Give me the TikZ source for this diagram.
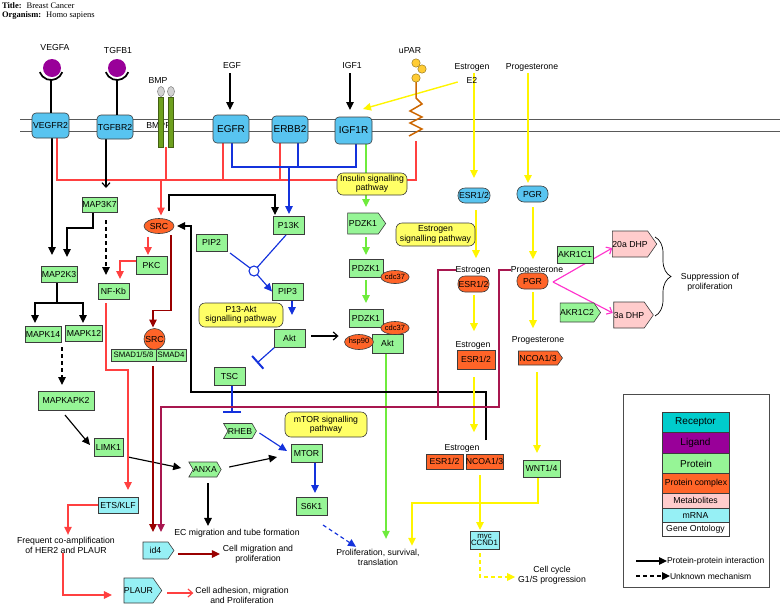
\documentclass[tikz,border=0pt]{standalone}
\usepackage{fontspec}
\setmainfont{Liberation Sans}
\newfontfamily\titlefont{Liberation Serif}
\usetikzlibrary{arrows.meta,shapes.geometric,shapes.symbols,decorations.pathreplacing,calc}
\pgfdeclarelayer{bg}
\pgfsetlayers{bg,main}
\definecolor{recblue}{RGB}{88,196,240}
\definecolor{lgrec}{RGB}{0,204,204}
\definecolor{ligpurple}{RGB}{153,0,153}
\definecolor{protgreen}{RGB}{150,245,150}
\definecolor{cplxorange}{RGB}{255,100,40}
\definecolor{metapink}{RGB}{255,204,204}
\definecolor{mrnacyan}{RGB}{150,240,245}
\definecolor{pathyellow}{RGB}{255,255,102}
\definecolor{lyellow}{RGB}{255,245,0}
\definecolor{lred}{RGB}{255,64,64}
\definecolor{ldred}{RGB}{153,0,0}
\definecolor{lcrim}{RGB}{168,23,79}
\definecolor{lblue}{RGB}{20,50,220}
\definecolor{lgreen}{RGB}{110,235,60}
\definecolor{lmag}{RGB}{255,51,204}
\definecolor{edgegray}{RGB}{60,60,60}
\definecolor{rodgreen}{RGB}{110,160,30}
\definecolor{uparorange}{RGB}{204,102,0}
\definecolor{uparyellow}{RGB}{255,204,51}
\tikzset{
  every node/.style={font=\fontsize{8.7}{10}\selectfont, inner sep=0pt, outer sep=0pt},
  sz/.style 2 args={minimum width=#1, minimum height=#2},
  rec/.style={draw=edgegray, line width=0.6pt, fill=recblue, rounded corners=4pt},
  bigtxt/.style={font=\fontsize{10}{11}\selectfont},
  prot/.style={draw=edgegray, line width=0.6pt, fill=protgreen},
  cplx/.style={draw=edgegray, line width=0.6pt, fill=cplxorange},
  mrna/.style={draw=edgegray, line width=0.6pt, fill=mrnacyan},
  metab/.style={draw=edgegray, line width=0.6pt, fill=metapink},
  oval/.style={ellipse, draw=edgegray, line width=0.6pt, fill=cplxorange},
  pathbox/.style={draw=edgegray, line width=0.6pt, fill=pathyellow, rounded corners=6pt, align=center, font=\fontsize{8.7}{9.3}\selectfont},
  pent/.style={shape=signal, signal to=east, signal pointer angle=110},
  hexa/.style={shape=signal, signal to=east, signal from=west, signal pointer angle=120},
  lgd/.style={draw=edgegray, line width=0.6pt, minimum width=67},
  ln/.style={line width=1.15pt},
  arr/.style={-{Triangle[length=8pt,width=7.5pt]}},
  openarr/.style={-{Straight Barb[length=4.5pt,width=8pt]}},
  lnred/.style={ln, lred},
  lnblue/.style={ln, lblue},
  lngreen/.style={ln, lgreen},
  lnyel/.style={line width=1.4pt, lyellow},
  lndred/.style={ln, ldred},
  lncrim/.style={ln, lcrim},
  lnmag/.style={ln, lmag},
  dsh/.style={dash pattern=on 4pt off 3pt},
}
\begin{document}
\begin{tikzpicture}[x=1pt,y=-1pt]
\useasboundingbox (0,0) rectangle (784,606);

% ---------- title ----------
\node[anchor=west, font=\titlefont\fontsize{8.5}{9}\selectfont] (title) at (2,5.5) {\textbf{Title:}\hspace{5pt}Breast Cancer};
\node[anchor=west, font=\titlefont\fontsize{8.5}{9}\selectfont] (organism) at (2,15.5) {\textbf{Organism:}\hspace{5pt}Homo sapiens};

% ---------- labels above membrane ----------
\node (vegfa) at (55,48) {VEGFA};
\node (tgfb1) at (118,50) {TGFB1};
\node (bmp) at (158,81) {BMP};
\node (bmpr) at (159,126) {BMPR};
\node (egf) at (232,66) {EGF};
\node (igf1) at (352,66) {IGF1};
\node (upar) at (410,51) {uPAR};
\node (estrogen) at (472,67) {Estrogen};
\node (e2) at (472,80) {E2};
\node (prog) at (532,67) {Progesterone};

% ---------- receptors ----------
\node[rec, sz={37}{25}] (vegfr2) at (50.5,125.5) {VEGFR2};
\node[rec, sz={36}{24}] (tgfbr2) at (115,127) {TGFBR2};
\node[rec, bigtxt, sz={36}{28}] (egfr) at (231,129) {EGFR};
\node[rec, bigtxt, sz={36}{27}] (erbb2) at (290,129.5) {ERBB2};
\node[rec, bigtxt, sz={37}{27}] (igf1r) at (353.5,130.5) {IGF1R};

% ligands
\node[circle, fill=ligpurple, minimum size=18] (vegfacirc) at (52,68) {};
\node[circle, fill=ligpurple, minimum size=18] (tgfb1circ) at (117,68) {};
\draw[line width=1.7pt] (62.3,72.1) arc[start angle=20, end angle=160, radius=12];
\draw[line width=1.7pt] (128.3,72.1) arc[start angle=20, end angle=160, radius=12];
\draw[line width=1.7pt] (51,80) -- ($(vegfr2.north)+(0.5,0)$);
\draw[line width=1.7pt] (117,80) -- ($(tgfbr2.north)+(2,0)$);

% BMP rods
\foreach \x in {161,171} {
  \draw[fill=rodgreen, draw=rodgreen!60!black, line width=0.5pt] (\x-2.5,97) rectangle (\x+2.5,147);
  \draw[fill=gray!35, draw=gray, line width=0.5pt] (\x,91.5) ellipse [x radius=3.5, y radius=5];
}
\coordinate (bmpbase) at (166,147);

% uPAR
\draw[uparorange, line width=1.5pt] (416,82) -- (416,98) -- (422,104) -- (410,111) -- (422,117) -- (410,123) -- (422,129) -- (409,136);
\foreach \p in {(416,63),(422,69),(416,78)} \draw[fill=uparyellow, draw=uparyellow!60!black, line width=0.5pt] \p circle[radius=4.2];
\coordinate (uparbase) at (416,141);

% ---------- cytoplasm nodes ----------
\node[prot, sz={35}{15}] (map3k7) at (99.5,204.5) {MAP3K7};
\node[oval, sz={30}{15}] (src1) at (159,226) {SRC};
\node[prot, sz={31}{18}] (pkc) at (151.5,265) {PKC};
\node[prot, sz={31}{16}] (nfkb) at (113.5,291) {NF-Kb};
\node[prot, sz={36}{16}] (map2k3) at (59,274) {MAP2K3};
\node[prot, sz={36}{16}] (mapk14) at (43,334) {MAPK14};
\node[prot, sz={37}{16}] (mapk12) at (84,333) {MAPK12};
\node[prot, sz={56}{19}] (mapkapk2) at (66,400.5) {MAPKAPK2};
\node[prot, sz={29}{18}] (limk1) at (108.5,447) {LIMK1};
\node[prot, sz={45}{12}, font=\fontsize{7.8}{9}\selectfont] (smad158) at (133.5,355) {SMAD1/5/8};
\node[prot, sz={30}{12}, font=\fontsize{7.8}{9}\selectfont] (smad4) at (171,355) {SMAD4};
\node[circle, draw=edgegray, line width=0.6pt, fill=cplxorange, minimum size=21] (src2) at (154.5,339) {SRC};

\node[prot, sz={31}{17}] (pip2) at (211.5,242.5) {PIP2};
\node[prot, sz={31}{18}] (p13k) at (288.5,225) {P13K};
\node[prot, sz={31}{17}] (pip3) at (287.5,291.5) {PIP3};
\node[prot, sz={31}{18}] (akt1) at (289.5,338) {Akt};
\node[prot, sz={31}{18}] (tsc) at (229.5,376) {TSC};
\node[prot, hexa, sz={29}{15}] (rheb) at (240,431) {RHEB};
\node[prot, hexa, sz={30}{15}] (anxa) at (205,469.5) {ANXA};
\node[prot, sz={31}{18}] (mtor) at (306.5,453) {MTOR};
\node[prot, sz={31}{18}] (s6k1) at (311.5,506) {S6K1};
\node[circle, draw=lblue, line width=1.1pt, fill=white, minimum size=10] (cat) at (254,271) {};

\node[prot, pent, sz={38}{21}] (pdzk1a) at (363,223.5) {PDZK1};
\node[prot, sz={34}{18}] (pdzk1b) at (366,268) {PDZK1};
\node[oval, sz={25}{13}, font=\fontsize{7.5}{8}\selectfont] (cdc37a) at (395,277) {cdc37};
\node[prot, sz={34}{18}] (pdzk1c) at (366,318) {PDZK1};
\node[prot, sz={31}{19}] (akt2) at (387.5,343.5) {Akt};
\node[oval, sz={25}{13}, font=\fontsize{7.5}{8}\selectfont] (cdc37b) at (395,328) {cdc37};
\node[oval, sz={25}{15}, font=\fontsize{7.5}{8}\selectfont] (hsp90) at (359,342) {hsp90};

% pathway boxes
\node[pathbox, sz={70}{22}] (insulin) at (372,184) {Insulin signalling\\pathway};
\node[pathbox, sz={84}{24}] (p13akt) at (241,315) {P13-Akt\\signalling pathway};
\node[pathbox, sz={79}{23}] (estsig) at (435.5,234.5) {Estrogen\\signalling pathway};
\node[pathbox, sz={82}{25}] (mtorsig) at (326,424.5) {mTOR signalling\\pathway};

% estrogen branch
\node[rec, rounded corners=7pt, sz={32}{15}] (esr1b) at (474,195.5) {ESR1/2};
\node (est1) at (473,270) {Estrogen};
\node[cplx, rounded corners=7pt, sz={31}{16}] (esrpill) at (473.5,284) {ESR1/2};
\node (est2) at (473,345) {Estrogen};
\node[cplx, sz={38}{19}] (esrrect) at (476,359.5) {ESR1/2};
\node (est3) at (462,448) {Estrogen};
\node[cplx, sz={37}{15}] (esr3) at (444.5,461.5) {ESR1/2};
\node[cplx, sz={35}{15}] (ncoa3) at (484.5,461.5) {NCOA1/3};
\node[mrna, sz={29}{18}, align=center, font=\fontsize{7.8}{7.6}\selectfont] (myc) at (484.5,540) {myc\\CCND1};

% progesterone branch
\node[rec, rounded corners=7pt, sz={31}{16}] (pgrb) at (532.5,194) {PGR};
\node (prog1) at (537,270) {Progesterone};
\node[cplx, rounded corners=7pt, sz={31}{16}] (pgro) at (532.5,281) {PGR};
\node (prog2) at (538,340) {Progesterone};
\node[cplx, pent, sz={44}{14}] (ncoa) at (538,358) {NCOA1/3};
\node[prot, sz={37}{17}] (wnt) at (541.5,468.5) {WNT1/4};
\node[prot, sz={36}{17}] (akr1c1) at (575,254.5) {AKR1C1};
\node[prot, pent, sz={40}{19}] (akr1c2) at (577,312.5) {AKR1C2};
\node[metab, pent, sz={40}{26}] (dhp20) at (630,244) {20a DHP};
\node[metab, pent, sz={38}{26}] (dhp3) at (629,315) {3a DHP};
\node[align=center] (supp) at (710,282.5) {Suppression of\\proliferation};

% mRNA nodes
\node[mrna, sz={40}{16}] (etsklf) at (118,505) {ETS/KLF};
\node[mrna, pent, sz={31}{17}] (id4) at (155.5,550.5) {id4};
\node[mrna, pent, sz={33}{25}] (plaur) at (138.5,590.5) {PLAUR};

% outcome texts
\node (ec) at (237,533) {EC migration and tube formation};
\node[align=center] (cellmig) at (258,554) {Cell migration and\\proliferation};
\node[align=center] (freq) at (66,545) {Frequent co-amplification\\of HER2 and PLAUR};
\node[align=center] (celladh) at (242,595) {Cell adhesion, migration\\and Proliferation};
\node[align=center] (prolif) at (378,557) {Proliferation, survival,\\translation};
\node[align=center] (cellcyc) at (552,575) {Cell cycle\\G1/S progression};

% ---------- connectors ----------
\begin{pgfonlayer}{bg}
\draw[gray!70!black, line width=0.8pt] (20,119) -- (780,119) (20,131) -- (780,131);

% ligand arrows
\draw[ln, arr] ($(egf.south)+(-2,4)$) -- ($(egfr.north)+(-1,-5)$);
\draw[ln, arr] ($(igf1.south)+(-2,4)$) -- ($(igf1r.north)+(-3.5,-7)$);
\draw[lnyel, arr] ($(e2.west)+(-9,2)$) -- ($(igf1r.north east)+(-9,-8)$);
\draw[lnyel, arr] ($(estrogen.south)+(2,2)$) -- ($(esr1b.north)+(0,-10)$);
\draw[lnyel, arr] ($(prog.south)+(-4,2)$) -- ($(pgrb.north)+(-4.5,-3)$);

% red network
\coordinate (rj) at (416,180);
\draw[lnred] ($(vegfr2.south)+(6.5,0)$) |- (rj) -- (uparbase);
\draw[lnred] (bmpbase) -- ($(bmpbase)+(0,33)$);
\draw[lnred] ($(egfr.south)+(-8,0)$) -- ($(egfr.south)+(-8,37)$);
\draw[lnred] ($(erbb2.south)+(-10,0)$) -- ($(erbb2.south)+(-10,37)$);
\draw[lnred, arr] ($(src1.north)+(2,-38.5)$) -- ($(src1.north)+(2,-3)$);

% blue network
\draw[lnblue] ($(egfr.south)+(1,0)$) |- ($(igf1r.south)+(2.5,23)$) -- ($(igf1r.south)+(2.5,0)$);
\draw[lnblue] ($(erbb2.south)+(8,0)$) -- ($(erbb2.south)+(8,24)$);
\draw[lnblue, arr] ($(p13k.north)+(0.5,-49)$) -- ($(p13k.north)+(0.5,-2)$);

% green IGF1R
\draw[lngreen, arr] ($(igf1r.south)+(12.5,0)$) -- ($(pdzk1a.north)+(3,-6)$);
\draw[lngreen, arr] ($(pdzk1a.south)+(3,3)$) -- ($(pdzk1b.north)+(0,-4)$);
\draw[lngreen, arr] ($(pdzk1b.south)+(0,3)$) -- ($(pdzk1c.north)+(0,-6)$);
\draw[lngreen, arr] ($(akt2.south)+(-1.5,0)$) -- ($(prolif.north)+(8,-10)$);

% left black cascade
\draw[ln, arr] ($(vegfr2.south)+(1.5,0)$) -- ($(map2k3.north)+(-7,-11)$);
\draw[ln, openarr] ($(tgfbr2.south)+(-9,0)$) -- ($(map3k7.north)+(6.5,-9)$);
\draw[ln, arr] ($(map3k7.south)+(-6.5,0)$) -- ++(0,16) -| ($(map2k3.north)+(8,-9)$);
\draw[ln, arr, dsh] ($(map3k7.south)+(6.5,8)$) -- ($(nfkb.north)+(-7.5,-8)$);
\coordinate (mj) at ($(map2k3.south)+(-2,21)$);
\draw[ln] ($(map2k3.south)+(-2,0)$) -- (mj);
\draw[ln, arr] (mj) -| ($(mapk14.north)+(-8,-3)$);
\draw[ln, arr] (mj) -| ($(mapk12.north)+(-1,-2)$);
\draw[ln, arr, dsh] ($(mapk14.south)+(19,5)$) -- ($(mapkapk2.north)+(-4,-6)$);
\draw[ln, arr] ($(mapkapk2.south)+(-1,5)$) -- ($(limk1.west)+(-4,-2)$);
\draw[ln, arr] ($(limk1.south east)+(5,1)$) -- ($(anxa.west)+(-12,-1.5)$);
\draw[ln, arr] ($(anxa.east)+(8,-2.5)$) -- ($(mtor.west)+(-14,4)$);
\draw[ln, arr] ($(anxa.south)+(3,6)$) -- ($(ec.north)+(-29,-3)$);

% SRC related
\draw[ln, arr] ($(src1.north)+(10,-7.5)$) |- ($(p13k.north)+(-13.5,-21)$) -- ($(p13k.north)+(-13.5,-1)$);
\draw[ln, arr] ($(ncoa3.north)+(1.5,-14)$) |- ($(src1.east)+(17,166)$) -- ($(src1.east)+(17,0)$) -- ($(src1.east)+(3,0)$);
\draw[lnred, arr] ($(src1.south)+(-11,3)$) -- ($(pkc.north)+(-3.5,-1)$);
\draw[lnred, arr] ($(pkc.west)+(0,-4)$) -| ($(nfkb.north)+(6.5,-4)$);
\draw[lndred, arr] ($(src1.south)+(12,1.5)$) |- ($(src2.north)+(-1.5,-18)$) -- ($(src2.north)+(-1.5,-1)$);
\draw[lndred, arr] ($(smad158.south)+(19.5,5)$) -- ($(id4.north)+(-2.5,-10)$);
\draw[lndred, arr] ($(id4.east)+(4,3.5)$) -- ($(cellmig.west)+(-3,0)$);

% PI3K / Akt / mTOR
\draw[lnblue] ($(p13k.south)+(-2.5,1)$) -- (cat);
\draw[lnblue] ($(pip2.south east)+(3,2)$) -- (cat);
\draw[lnblue, arr] (cat) -- (pip3.west);
\draw[lnblue, arr] ($(pip3.south)+(4.5,1)$) -- ($(akt1.north)+(2.5,-14)$);
\draw[lnblue, -{Bar[width=17pt, line width=2pt]}] ($(akt1.south west)+(1,0)$) -- ($(tsc.north east)+(12,-4)$);
\draw[lnblue, -{Bar[width=18pt, line width=2pt]}] ($(tsc.south)+(2.5,1)$) -- ($(tsc.south)+(2.5,28)$);
\draw[lnblue, arr] ($(rheb.east)+(3,2)$) -- ($(mtor.west)+(-4,-2)$);
\draw[lnblue, arr] ($(mtor.south)+(8.5,1)$) -- ($(s6k1.north)+(3.5,-4)$);
\draw[lnblue, arr, dsh] ($(s6k1.south east)+(-4,10)$) -- ($(prolif.north)+(-22,-2)$);
\draw[ln, openarr] ($(akt1.east)+(6,-2)$) -- ($(hsp90.west)+(-6,-6)$);

% estrogen / progesterone (yellow)
\draw[lnyel, arr] ($(esr1b.south)+(2,7)$) -- ($(est1.north)+(3,-8)$);
\draw[lnyel, arr] ($(esrpill.south)+(0.5,3)$) -- ($(est2.north)+(1,-10)$);
\draw[lnyel, arr] ($(esrrect.south)+(-2,8)$) -- ($(est3.north)+(12,-12)$);
\draw[lnyel, arr] ($(ncoa3.south)+(-4.5,6)$) -- ($(myc.north)+(-4.5,-1)$);
\draw[lnyel, arr] ($(wnt.south)+(-3.5,0)$) -- ++(0,26) -| ($(prolif.north)+(34,-3)$);
\draw[lnyel, arr, dsh] ($(myc.south)+(-4.5,4)$) |- ($(cellcyc.west)+(-3,2)$);
\draw[lnyel, arr] ($(pgrb.south)+(0.5,5)$) -- ($(prog1.north)+(-4,-7)$);
\draw[lnyel, arr] ($(pgro.south)+(0.5,3)$) -- ($(prog2.north)+(-5,-8)$);
\draw[lnyel, arr] ($(ncoa.south)+(-1,7)$) -- ($(wnt.north)+(-4.5,-7)$);

% magenta
\draw[lnmag, openarr] ($(pgro.east)+(5,1)$) -- ($(dhp20.west)+(0,4)$);
\draw[lnmag, openarr] ($(pgro.east)+(5,1)$) -- ($(dhp3.west)+(-1,-2)$);

% crimson
\coordinate (crj) at (161,407);
\draw[lncrim] (est1.west) -| (438,407);
\draw[lncrim, arr] (prog1.west) -| (499,407) -- (crj) -- ($(id4.north)+(5.5,-10)$);

% red lower
\draw[lnred, arr] ($(nfkb.south)+(-7.5,4)$) -- ++(0,67) -| ($(etsklf.north)+(10,-7)$);
\draw[lnred, arr] (etsklf.west) -| ($(freq.north)+(2,-2)$);
\draw[lnred, arr] ($(freq.south)+(-3,0)$) |- ($(plaur.west)+(-12,4.5)$);
\draw[lnred, openarr] ($(plaur.east)+(5,2.5)$) -- ($(celladh.west)+(-2,-2)$);
\end{pgfonlayer}

% brace
\draw[line width=0.7pt, decorate, decoration={brace, amplitude=16pt}] (655,237) -- (655,316);

% ---------- legend ----------
\draw[draw=gray!60!black, line width=0.9pt] (623,394) rectangle (769,587);
\node[lgd, fill=lgrec, minimum height=20, font=\fontsize{10}{11}\selectfont] (lrec) at (695.5,422) {Receptor};
\node[lgd, fill=ligpurple, minimum height=21, font=\fontsize{10}{11}\selectfont] (llig) at (695.5,443) {Ligand};
\node[lgd, fill=protgreen, minimum height=20, font=\fontsize{10}{11}\selectfont] (lprot) at (696,463.5) {Protein};
\node[lgd, fill=cplxorange, minimum height=20] (lcplx) at (696,483) {Protein complex};
\node[lgd, fill=metapink, minimum height=15] (lmeta) at (695.5,500.5) {Metabolites};
\node[lgd, fill=mrnacyan, minimum height=14] (lmrna) at (695.5,515) {mRNA};
\node[lgd, fill=white, minimum height=14] (lgo) at (695.5,529) {Gene Ontology};
\coordinate (la1) at (636,561);
\node[anchor=west, font=\fontsize{8.5}{10}\selectfont] (lppi) at (667,561) {Protein-protein interaction};
\draw[ln, arr] (la1) -- (lppi.west);
\coordinate (la2) at (636,576);
\node[anchor=west, font=\fontsize{8.5}{10}\selectfont] (lunk) at (670,576) {Unknown mechanism};
\draw[ln, arr, dsh] (la2) -- (lunk.west);
\end{tikzpicture}
\end{document}
